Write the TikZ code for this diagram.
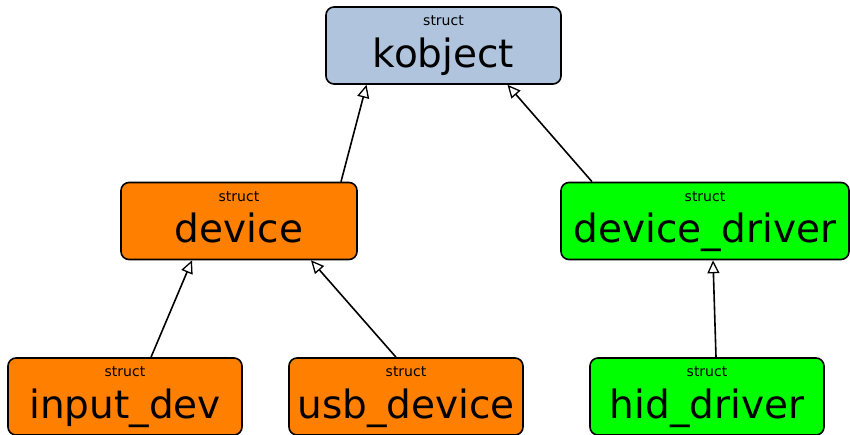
\documentclass[tikz,border=0pt]{standalone}
\usepackage{fontspec}
\setmainfont{DejaVu Sans}
\usetikzlibrary{arrows.meta}
\definecolor{kobjblue}{HTML}{B0C4DE}
\definecolor{devorange}{HTML}{FF7F00}
\definecolor{drvgreen}{HTML}{00FF00}
\tikzset{
  structbox/.style={draw=black, line width=1.6pt, rounded corners=8pt,
    minimum height=77pt, inner sep=0pt},
  smalllbl/.style={anchor=base, inner sep=0pt, font=\fontsize{14}{14}\selectfont},
  biglbl/.style={anchor=base, inner sep=0pt, font=\fontsize{39}{39}\selectfont},
  inherit/.style={line width=1.6pt,
    -{Triangle[fill=white, length=13pt, width=12pt, line width=1.3pt]}}
}
\newcommand{\structnode}[6]{%
  % #1 name, #2 x, #3 y (centre), #4 width, #5 fill, #6 type name
  \node[structbox, fill=#5, minimum width=#4] (#1) at (#2,#3) {};
  \node[smalllbl] (#1-kw) at ([yshift=-19.5pt]#1.north) {struct};
  \node[biglbl] (#1-name) at ([yshift=-61pt]#1.north) {#6};
}
\begin{document}
\begin{tikzpicture}[x=1pt, y=-1pt]
  \useasboundingbox (0,0) rectangle (850,434);
  \structnode{kobject}{443.5}{45.5}{235pt}{kobjblue}{kobject}
  \structnode{device}{239}{221}{236pt}{devorange}{device}
  \structnode{devicedriver}{705}{221}{288pt}{drvgreen}{device\_driver}
  \structnode{inputdev}{125}{396.5}{234pt}{devorange}{input\_dev}
  \structnode{usbdevice}{406}{396.5}{234pt}{devorange}{usb\_device}
  \structnode{hiddriver}{707}{396.5}{234pt}{drvgreen}{hid\_driver}

  \draw[inherit] ([xshift=102pt]device.north) -- ([xshift=-77pt]kobject.south);
  \draw[inherit] ([xshift=-113pt]devicedriver.north) -- ([xshift=64pt]kobject.south);
  \draw[inherit] ([xshift=26pt]inputdev.north) -- ([xshift=-47pt]device.south);
  \draw[inherit] ([xshift=-10pt]usbdevice.north) -- ([xshift=72pt]device.south);
  \draw[inherit] ([xshift=9pt]hiddriver.north) -- ([xshift=8pt]devicedriver.south);
\end{tikzpicture}
\end{document}
